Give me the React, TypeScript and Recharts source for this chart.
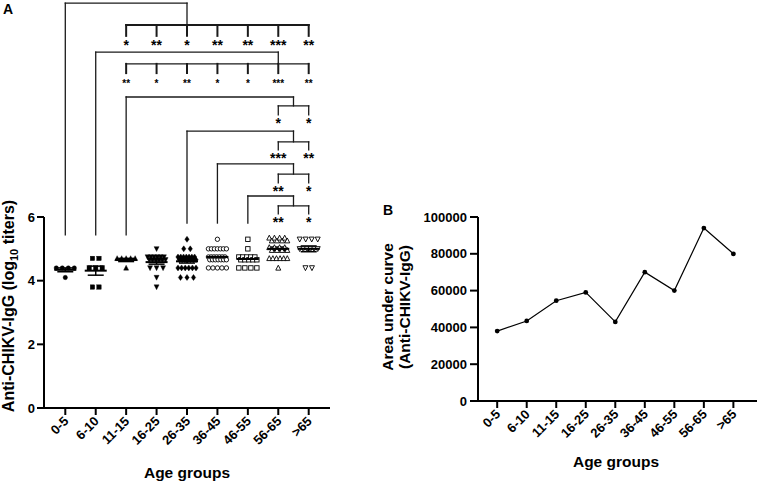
import React from "react"
import {
  ScatterChart,
  Scatter,
  XAxis,
  YAxis,
  ErrorBar,
  ReferenceLine,
  ReferenceDot,
  LineChart,
  Line,
} from "recharts"

const FONT = '"Liberation Sans", Arial, sans-serif'

const groups = ["0-5", "6-10", "11-15", "16-25", "26-35", "36-45", "46-55", "56-65", ">65"]

// log10 titers per age group
const titers0 = [4.4, 4.4, 4.4, 4.4, 4.1]
const titers1 = [4.7, 4.7, 4.4, 4.4, 4.4, 3.8, 3.8]
const titers2 = [4.7, 4.7, 4.7, 4.7, 4.7, 4.4]
const titers3 = [5.0, 4.7, 4.7, 4.7, 4.7, 4.7, 4.7, 4.7, 4.7, 4.7, 4.7, 4.7, 4.7, 4.4, 4.4, 4.4, 4.1, 3.8]
const titers4 = [5.3, 5.0, 5.0, 4.7, 4.7, 4.7, 4.7, 4.7, 4.7, 4.7, 4.7, 4.7, 4.7, 4.7, 4.7, 4.7, 4.7, 4.4, 4.4, 4.4, 4.4, 4.4, 4.4, 4.1, 4.1, 4.1]
const titers5 = [5.3, 5.0, 5.0, 5.0, 5.0, 5.0, 5.0, 5.0, 4.7, 4.7, 4.7, 4.7, 4.7, 4.7, 4.7, 4.7, 4.7, 4.7, 4.7, 4.7, 4.7, 4.7, 4.4, 4.4, 4.4, 4.4, 4.4]
const titers6 = [5.3, 5.0, 4.7, 4.7, 4.7, 4.7, 4.7, 4.7, 4.7, 4.7, 4.7, 4.7, 4.4, 4.4, 4.4, 4.4]
const titers7 = [5.3, 5.3, 5.3, 5.3, 5.3, 5.3, 5.3, 5.3, 5.0, 5.0, 5.0, 5.0, 5.0, 5.0, 5.0, 5.0, 4.7, 4.7, 4.7, 4.7, 4.7, 4.7, 4.4]
const titers8 = [5.3, 5.3, 5.3, 5.3, 5.0, 5.0, 5.0, 5.0, 5.0, 5.0, 4.4, 4.4]
const titers = [titers0, titers1, titers2, titers3, titers4, titers5, titers6, titers7, titers8]

// area under curve per age group
const aucValues = [38000, 43500, 54500, 59000, 43000, 70000, 60000, 94000, 80000]

// multiple comparisons: source group -> compared groups, with stars
const cmpSource = [0, 1, 2, 4, 5, 6]
const cmpTargets = [
  [2, 3, 4, 5, 6, 7, 8],
  [2, 3, 4, 5, 6, 7, 8],
  [7, 8],
  [7, 8],
  [7, 8],
  [7, 8],
]
const cmpStars = [
  ["*", "**", "*", "**", "**", "***", "**"],
  ["**", "*", "**", "*", "*", "***", "**"],
  ["*", "*"],
  ["***", "**"],
  ["**", "*"],
  ["**", "*"],
]

// bracket geometry in log10 units (above the axis top)
const bracketLayout = [
  { base: 5.44, top: 12.72, join: 4, bar: 12.03, tick: 11.69, star: 11.51, barW: 2, tickW: 2, starSize: 14 },
  { base: 5.44, top: 11.18, join: 7, bar: 10.81, tick: 10.52, star: 10.27, barW: 1.3, tickW: 2, starSize: 10 },
  { base: 5.44, top: 9.77, join: 7.5, bar: 9.49, tick: 9.21, star: 9.05, barW: 1.3, tickW: 1.3, starSize: 14 },
  { base: 5.81, top: 8.7, join: 7.5, bar: 8.36, tick: 8.11, star: 7.95, barW: 1.3, tickW: 1.3, starSize: 14 },
  { base: 5.81, top: 7.67, join: 7.5, bar: 7.35, tick: 7.07, star: 6.91, barW: 1.3, tickW: 1.3, starSize: 14 },
  { base: 5.81, top: 6.66, join: 7.5, bar: 6.35, tick: 6.1, star: 5.94, barW: 1.3, tickW: 1.3, starSize: 14 },
]

const markerKinds = ["circle", "square", "tri", "triDown", "diamond", "circle", "square", "tri", "triDown"]
const markerOpen = [false, false, false, false, false, true, true, true, true]

const PX_PER_UNIT = 30.4

// spread equal values sideways like a column scatter
function swarm(values: number[], gi: number) {
  const counts = new Map<number, number>()
  values.forEach((v) => counts.set(v, (counts.get(v) || 0) + 1))
  const seen = new Map<number, number>()
  return values.map((v) => {
    const n = counts.get(v) || 1
    const k = seen.get(v) || 0
    seen.set(v, k + 1)
    const step = n > 1 ? Math.min(6.5, 18 / (n - 1)) : 0
    const off = (k - (n - 1) / 2) * step
    const dy = n > 7 ? (k % 2 ? 1.4 : -1.4) : 0
    return { x: gi + off / PX_PER_UNIT, y: v, dy }
  })
}

function meanSem(values: number[]) {
  const n = values.length
  const m = values.reduce((a, b) => a + b, 0) / n
  const sd = Math.sqrt(values.reduce((a, b) => a + (b - m) * (b - m), 0) / (n - 1))
  return { m, sem: sd / Math.sqrt(n) }
}

const makeMarker = (kind: string, open: boolean) => (props: any) => {
  const { cx, cy, payload } = props
  if (cx == null || cy == null) return <g />
  const y = cy + (payload?.dy || 0)
  const fill = open ? "#fff" : "#000"
  const sp = { fill, stroke: "#000", strokeWidth: open ? 0.9 : 0.4 }
  const s = 2.2
  if (kind === "circle") return <circle cx={cx} cy={y} r={s} {...sp} />
  if (kind === "square") return <rect x={cx - s} y={y - s} width={2 * s} height={2 * s} {...sp} />
  if (kind === "tri")
    return <polygon points={`${cx},${y - s - 0.5} ${cx - s - 0.3},${y + s} ${cx + s + 0.3},${y + s}`} {...sp} />
  if (kind === "triDown")
    return <polygon points={`${cx},${y + s + 0.5} ${cx - s - 0.3},${y - s} ${cx + s + 0.3},${y - s}`} {...sp} />
  return <polygon points={`${cx},${y - s - 0.8} ${cx + s},${y} ${cx},${y + s + 0.8} ${cx - s},${y}`} {...sp} />
}

const MeanLine = (props: any) => {
  const { cx, cy } = props
  if (cx == null || cy == null) return <g />
  return <line x1={cx - 11} x2={cx + 11} y1={cy} y2={cy} stroke="#000" strokeWidth={2} />
}

const AngledTick = (props: any) => {
  const { x, y, payload } = props
  const ax = x + 4
  const ay = y + 5
  return (
    <text
      x={ax}
      y={ay}
      transform={`rotate(-45 ${ax} ${ay})`}
      textAnchor="end"
      fontFamily={FONT}
      fontWeight={700}
      fontSize={13}
      fill="#000"
    >
      {groups[payload.value]}
    </text>
  )
}

const starShape = (text: string, size: number) => (props: any) => {
  const { cx, cy } = props
  if (cx == null || cy == null) return <g />
  return (
    <text x={cx} y={cy + size * 0.57} textAnchor="middle" fontFamily={FONT} fontWeight={700} fontSize={size} fill="#000">
      {text}
    </text>
  )
}

const axisStyle = { stroke: "#000", strokeWidth: 2 }
const tickStyle = { fill: "#000", fontSize: 13, fontWeight: 700, fontFamily: FONT }
const idx = [0, 1, 2, 3, 4, 5, 6, 7, 8]

function PanelA() {
  const means = titers.map((v, i) => {
    const s = meanSem(v)
    return { x: i, y: s.m, sem: s.sem }
  })

  const segs: { a: number; ya: number; b: number; yb: number; w: number }[] = []
  cmpSource.forEach((src, bi) => {
    const L = bracketLayout[bi]
    const tg = cmpTargets[bi]
    segs.push({ a: src, ya: L.base, b: src, yb: L.top, w: 1.3 })
    segs.push({ a: src, ya: L.top, b: L.join, yb: L.top, w: 1.3 })
    segs.push({ a: L.join, ya: L.top, b: L.join, yb: L.bar, w: 1.3 })
    segs.push({ a: tg[0], ya: L.bar, b: tg[tg.length - 1], yb: L.bar, w: L.barW })
    tg.forEach((t) => segs.push({ a: t, ya: L.bar, b: t, yb: L.tick, w: L.tickW }))
  })

  return (
    <ScatterChart width={340} height={484} margin={{ top: 217, right: 10, bottom: 36, left: 14 }}>
      <XAxis
        type="number"
        dataKey="x"
        domain={[-0.7, 8.7]}
        ticks={idx}
        interval={0}
        axisLine={axisStyle}
        tickLine={axisStyle}
        tickSize={7}
        tick={<AngledTick />}
        height={40}
      />
      <YAxis
        type="number"
        dataKey="y"
        domain={[0, 6]}
        ticks={[0, 2, 4, 6]}
        axisLine={axisStyle}
        tickLine={axisStyle}
        tickSize={7}
        tick={tickStyle}
        width={30}
      />
      {titers.map((vals, gi) => (
        <Scatter
          key={groups[gi]}
          data={swarm(vals, gi)}
          shape={makeMarker(markerKinds[gi], markerOpen[gi])}
          isAnimationActive={false}
        />
      ))}
      <Scatter data={means} shape={<MeanLine />} isAnimationActive={false}>
        <ErrorBar dataKey="sem" direction="y" width={8} stroke="#000" strokeWidth={1.5} />
      </Scatter>
      {segs.map((s, i) => (
        <ReferenceLine
          key={`seg-${i}`}
          segment={[
            { x: s.a, y: s.ya },
            { x: s.b, y: s.yb },
          ]}
          stroke="#1a1a1a"
          strokeWidth={s.w}
          strokeLinecap="square"
          ifOverflow="visible"
        />
      ))}
      {cmpSource.map((src, bi) =>
        cmpTargets[bi].map((t, k) => (
          <ReferenceDot
            key={`star-${bi}-${k}`}
            x={t}
            y={bracketLayout[bi].star}
            r={0}
            ifOverflow="visible"
            shape={starShape(cmpStars[bi][k], bracketLayout[bi].starSize)}
          />
        ))
      )}
    </ScatterChart>
  )
}

function PanelB() {
  const data = aucValues.map((v, i) => ({ x: i, auc: v }))
  return (
    <LineChart width={397} height={484} data={data} margin={{ top: 217, right: 0, bottom: 43, left: 0 }}>
      <XAxis
        type="number"
        dataKey="x"
        domain={[-0.65, 8.8]}
        ticks={idx}
        interval={0}
        axisLine={axisStyle}
        tickLine={axisStyle}
        tickSize={7}
        tick={<AngledTick />}
        height={40}
      />
      <YAxis
        type="number"
        domain={[0, 100000]}
        ticks={[0, 20000, 40000, 60000, 80000, 100000]}
        axisLine={axisStyle}
        tickLine={axisStyle}
        tickSize={8}
        tickMargin={3}
        tick={tickStyle}
        width={118}
      />
      <Line
        dataKey="auc"
        stroke="#000"
        strokeWidth={1.2}
        dot={{ r: 2.4, fill: "#000", stroke: "#000", strokeWidth: 0 }}
        isAnimationActive={false}
      />
    </LineChart>
  )
}

const textStyle: React.CSSProperties = { fontFamily: FONT, fontWeight: 700, fill: "#000" }

export default function App() {
  return (
    <div style={{ position: "absolute", left: 0, top: 0, width: 757, height: 484, background: "#fff" }}>
      <div style={{ position: "absolute", left: 0, top: 0 }}>
        <PanelA />
      </div>
      <div style={{ position: "absolute", left: 360, top: 0 }}>
        <PanelB />
      </div>
      <svg width={757} height={484} style={{ position: "absolute", left: 0, top: 0, pointerEvents: "none" }}>
        <text x={3} y={14} fontSize={14} style={textStyle}>
          A
        </text>
        <text x={383} y={215} fontSize={14} style={textStyle}>
          B
        </text>
        <text x={187} y={478} fontSize={15.5} textAnchor="middle" style={textStyle}>
          Age groups
        </text>
        <text x={616} y={467} fontSize={15.5} textAnchor="middle" style={textStyle}>
          Age groups
        </text>
        <text x={14} y={306} fontSize={16} textAnchor="middle" transform="rotate(-90 14 306)" style={textStyle}>
          Anti-CHIKV-IgG (log
          <tspan fontSize={11} dy={4}>
            10
          </tspan>
          <tspan dy={-4}> titers)</tspan>
        </text>
        <text x={393} y={307} fontSize={15.5} textAnchor="middle" transform="rotate(-90 393 307)" style={textStyle}>
          Area under curve
        </text>
        <text x={410} y={307} fontSize={15.5} textAnchor="middle" transform="rotate(-90 410 307)" style={textStyle}>
          (Anti-CHIKV-IgG)
        </text>
      </svg>
    </div>
  )
}
